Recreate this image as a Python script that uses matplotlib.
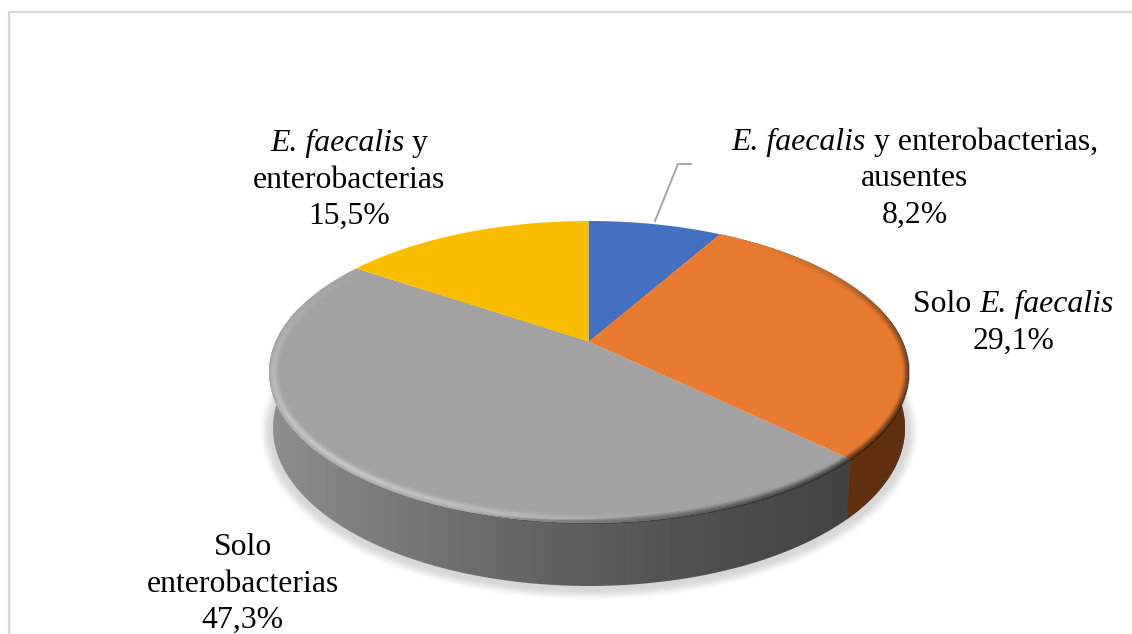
"""Pie chart with a perspective top face, side wall and soft drop shadow."""

import matplotlib

matplotlib.use("Agg")
import matplotlib.pyplot as plt
import numpy as np
from matplotlib.patches import PathPatch, Polygon
from matplotlib.path import Path

plt.rcParams["font.family"] = ["Liberation Serif", "DejaVu Serif"]

shares = [8.2, 29.1, 47.3, 15.5]
top_colors = ["#4370c0", "#e97b30", "#a2a2a2", "#fbbd00"]
orange_wall = "#613010"
# text between asterisks is set in italics
label_lines = [
    ["*E. faecalis* y enterobacterias,", "ausentes"],
    ["Solo *E. faecalis*"],
    ["Solo", "enterobacterias"],
    ["*E. faecalis* y", "enterobacterias"],
]
label_anchors = [(915, 150), (1013.5, 312), (242.5, 555), (349, 151)]

W, H = 1132, 634
CX = 589.0
K = 0.2012  # strength of the perspective foreshortening
TOP_RX, TOP_RY, TOP_CY = 320.0, 151.0, 372.0
BOT_RX, BOT_RY, BOT_CY = 316.0, 158.0, 428.0
LINE_H = 36.5
FONT_SIZE = 22.9


def project(theta, rx, ry, cy):
    """Map a clockwise-from-north angle on the disc to pixel coordinates."""
    root = np.sqrt(1 - K**2)
    den = 1 + K * np.cos(theta)
    x = CX + rx * root * np.sin(theta) / den
    y = (cy - K * ry) - ry * root**2 * np.cos(theta) / den
    return x, y


def ellipse_field(rx, ry, cy):
    """Return the offsets from the centre and an approximate pixel distance to the rim."""
    yy, xx = np.mgrid[0:H * 2, 0:W * 2] / 2.0
    dx, dy = xx - CX, yy - cy
    t = np.sqrt((dx / rx) ** 2 + (dy / ry) ** 2) + 1e-9
    grad = np.sqrt((dx / rx**2) ** 2 + (dy / ry**2) ** 2) / t + 1e-9
    return dx, dy, (1 - t) / grad


def smooth(v):
    v = np.clip(v, 0, 1)
    return v * v * (3 - 2 * v)


def text_width(ax, renderer, s, style):
    # bars keep leading and trailing spaces in the measured width
    probe = ax.text(0, 0, "|" + s + "|", fontsize=FONT_SIZE, style=style)
    bars = ax.text(0, 0, "||", fontsize=FONT_SIZE, style=style)
    width = probe.get_window_extent(renderer).width - bars.get_window_extent(renderer).width
    probe.remove()
    bars.remove()
    return width


def draw_line(ax, renderer, x, y, line):
    """Draw one centred line whose asterisk-marked runs are italic."""
    runs = [(s, "italic" if i % 2 else "normal") for i, s in enumerate(line.split("*")) if s]
    widths = [text_width(ax, renderer, s, style) for s, style in runs]
    left = x - sum(widths) / 2
    for (s, style), width in zip(runs, widths, strict=True):
        ax.text(left, y, s, style=style, ha="left", va="baseline",
                fontsize=FONT_SIZE, color="black", zorder=8)
        left += width


fig = plt.figure(figsize=(W / 100, H / 100), dpi=100)
ax = fig.add_axes([0, 0, 1, 1])
ax.axis("off")
extent = (0, W, H, 0)

# frame, open on the right and at the bottom
ax.plot([9, 9, W], [H, 12, 12], color="#d9d9d9", lw=1.6, solid_joinstyle="miter", zorder=1)

# drop shadow under the wall
_, _, d = ellipse_field(BOT_RX + 3, BOT_RY + 1, BOT_CY + 3)
shadow = np.zeros((*d.shape, 4))
shadow[..., 3] = 0.16 * smooth((d + 12) / 14)
ax.imshow(shadow, extent=extent, zorder=2, interpolation="bilinear", aspect="auto")

# side wall: outline runs along the lower rim between the two outer extremes
thetas = np.linspace(np.pi / 2 - 0.25, 3 * np.pi / 2 + 0.25, 500)
tx, ty = project(thetas, TOP_RX, TOP_RY, TOP_CY)
bx, by = project(thetas, BOT_RX, BOT_RY, BOT_CY)
wall_path = Path(np.column_stack([np.r_[tx, bx[::-1]], np.r_[ty, by[::-1]]]))

# horizontal shading on the grey part of the wall
ramp_x = [270, 400, 540, 680, 845]
ramp_v = [0.56, 0.47, 0.39, 0.32, 0.26]
ramp = np.interp(np.arange(W), ramp_x, ramp_v)[None, :, None].repeat(3, axis=2)
wall = ax.imshow(ramp, extent=extent, zorder=3, aspect="auto", interpolation="bilinear")
wall.set_clip_path(PathPatch(wall_path, transform=ax.transData))

# the printed shares add up to 100.1, so angles come from their fraction of the sum
edges = 2 * np.pi * np.cumsum([0] + shares) / sum(shares)

# wall below the orange slice, split at the slice boundary
arc = np.linspace(edges[1], edges[2], 200)
ax0, ay0 = project(arc, TOP_RX, TOP_RY, TOP_CY)
ax1, ay1 = project(arc, BOT_RX, BOT_RY, BOT_CY)
ax.add_patch(Polygon(np.column_stack([np.r_[ax0, ax1[::-1]], np.r_[ay0, ay1[::-1]]]),
                     facecolor=orange_wall, edgecolor="none", zorder=4))

# top face slices, drawn from the shares
apex = (CX, TOP_CY - K * TOP_RY)
for start, stop, color in zip(edges[:-1], edges[1:], top_colors, strict=True):
    arc = np.linspace(start, stop, 300)
    px, py = project(arc, TOP_RX, TOP_RY, TOP_CY)
    pts = np.column_stack([np.r_[apex[0], px], np.r_[apex[1], py]])
    ax.add_patch(Polygon(pts, facecolor=color, edgecolor="none", zorder=5))

# bevel around the rim: light towards the lower left, dark towards the lower right
dx, dy, d = ellipse_field(TOP_RX, TOP_RY, TOP_CY)
phi = np.arctan2(dy / TOP_RY, dx / TOP_RX)
hi = np.clip(np.cos(phi - np.radians(145)), 0, 1) ** 2 * np.exp(-(((d - 4.5) / 3.5) ** 2)) * 0.38
lo = np.clip(np.cos(phi - np.radians(30)), 0, 1) ** 1.2 * smooth((8 - d) / 8) * 0.6
rim = np.zeros((*d.shape, 4))
rim[..., :3] = np.where(hi > lo, 1.0, 0.0)[..., None]
rim[..., 3] = np.where(d >= -0.5, np.maximum(hi, lo), 0)
ax.imshow(rim, extent=extent, zorder=6, interpolation="bilinear", aspect="auto")

ax.set_xlim(0, W)
ax.set_ylim(H, 0)

# leader line to the smallest slice
ax.plot([655, 678, 691], [221, 164, 164], color="#a6a6a6", lw=1.4, zorder=7)

renderer = fig.canvas.get_renderer()
for lines, share, (x, y) in zip(label_lines, shares, label_anchors, strict=True):
    pct = f"{share:.1f}%".replace(".", ",")
    for i, line in enumerate([*lines, pct]):
        draw_line(ax, renderer, x, y + i * LINE_H, line)

fig.savefig("out.png", dpi=100)
plt.close(fig)
